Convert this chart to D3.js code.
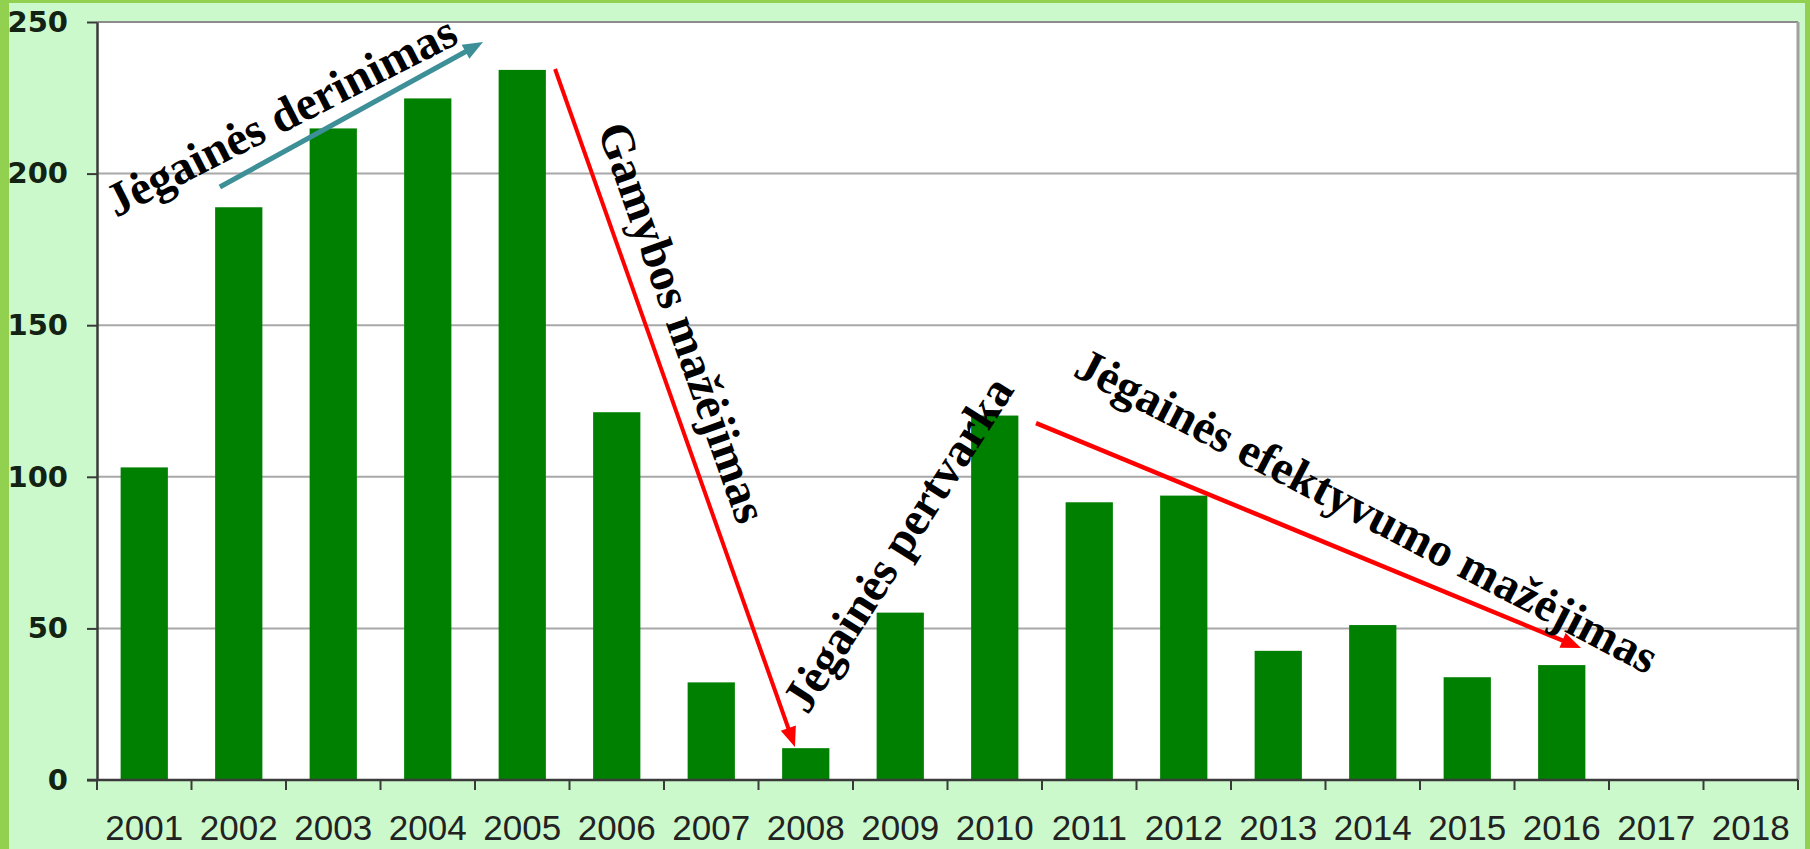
<!DOCTYPE html>
<html>
<head>
<meta charset="utf-8">
<script src="https://cdn.jsdelivr.net/npm/d3@7"></script>
<style>
  html, body { margin: 0; padding: 0; background: #ccf9cc; }
  svg { display: block; }
</style>
</head>
<body>
<svg id="chart" width="1810" height="849"></svg>
<script>
// Annual output by year
const years = ['2001','2002','2003','2004','2005','2006','2007','2008','2009',
               '2010','2011','2012','2013','2014','2015','2016','2017','2018'];
const values = [103.1, 188.9, 214.9, 224.8, 234.2, 121.3, 32.2, 10.5, 55.2,
                 120.2, 91.6, 93.8, 42.6, 51.1, 33.9, 37.9, null, null];
const yTicks = [0, 50, 100, 150, 200, 250];

// Trend annotations: text, anchor (category slot, value), rotation
const noteTexts  = ['Jėgainės derinimas', 'Gamybos mažėjimas', 'Jėgainės pertvarka', 'Jėgainės efektyvumo mažėjimas'];
const noteSlots  = [1.955, 6.18, 8.49, 13.43];
const noteValues = [218.5, 150.7, 77.5, 88.3];
const noteAngles = [-27, 70.5, -57.5, 27.5];

// Trend arrows: start / end as (category slot, value)
const arrowFromSlot  = [1.30, 4.847, 9.937];
const arrowFromValue = [195.6, 234.5, 117.7];
const arrowToSlot    = [4.085, 7.386, 15.704];
const arrowToValue   = [243.4, 10.9, 43.5];
const arrowColors    = ['#3d8f98', '#ff0000', '#ff0000'];
const arrowWidths    = [5, 4, 4.5];

const W = 1810, H = 849;
const plot = { left: 97, right: 1798, top: 22, bottom: 780 };

const svg = d3.select('#chart');

// Page background and frame strips
svg.append('rect').attr('x', 0).attr('y', 0).attr('width', W).attr('height', H).attr('fill', '#ccf9cc');
svg.append('rect').attr('x', 0).attr('y', 0).attr('width', 9).attr('height', H).attr('fill', '#92d050');
svg.append('rect').attr('x', 0).attr('y', 0).attr('width', W).attr('height', 3).attr('fill', '#92d050');
svg.append('rect').attr('x', 1805).attr('y', 0).attr('width', 5).attr('height', H).attr('fill', '#92d050');

const x = d3.scaleBand()
  .domain(years)
  .range([plot.left, plot.right])
  .paddingInner(0.5)
  .paddingOuter(0.25);

const y = d3.scaleLinear().domain([0, 250]).range([plot.bottom, plot.top]);

const slotX = s => plot.left + s * x.step();

// Plot area
svg.append('rect')
  .attr('x', plot.left).attr('y', plot.top)
  .attr('width', plot.right - plot.left).attr('height', plot.bottom - plot.top)
  .attr('fill', '#ffffff');

// Horizontal gridlines
svg.append('g')
  .selectAll('line')
  .data(yTicks.filter(d => d > 0))
  .join('line')
  .attr('x1', plot.left).attr('x2', plot.right)
  .attr('y1', d => y(d)).attr('y2', d => y(d))
  .attr('stroke', d => d === 250 ? '#8c8c8c' : '#a8a8a8')
  .attr('stroke-width', 2);

// Right border of plot area
svg.append('line')
  .attr('x1', plot.right).attr('x2', plot.right)
  .attr('y1', plot.top).attr('y2', plot.bottom)
  .attr('stroke', '#a0a0a0').attr('stroke-width', 3);

// Bars
svg.append('g')
  .selectAll('rect')
  .data(years.map((yr, i) => ({ yr, v: values[i] })).filter(d => d.v != null))
  .join('rect')
  .attr('x', d => x(d.yr))
  .attr('width', x.bandwidth())
  .attr('y', d => y(d.v))
  .attr('height', d => y(0) - y(d.v))
  .attr('fill', '#008000');

// Y axis
const yAxis = svg.append('g')
  .attr('transform', `translate(${plot.left},0)`)
  .call(d3.axisLeft(y).tickValues(yTicks).tickSize(10).tickPadding(19).tickSizeOuter(0));
yAxis.select('.domain').attr('stroke', '#3a3a3a').attr('stroke-width', 2.5);
yAxis.selectAll('.tick line').attr('stroke', '#3a3a3a').attr('stroke-width', 2);
yAxis.selectAll('.tick text')
  .attr('font-family', '"DejaVu Sans", sans-serif')
  .attr('font-weight', 'bold')
  .attr('font-size', 29)
  .attr('fill', '#132313');

// X axis: labels centred on categories, ticks on category boundaries
const xAxis = svg.append('g')
  .attr('transform', `translate(0,${plot.bottom})`)
  .call(d3.axisBottom(x).tickSize(0).tickPadding(35).tickSizeOuter(0));
xAxis.select('.domain').remove();
xAxis.selectAll('.tick text')
  .attr('font-family', '"Liberation Sans", Arial, sans-serif')
  .attr('font-size', 35)
  .attr('fill', '#222222');

svg.append('g')
  .selectAll('line')
  .data(d3.range(years.length + 1))
  .join('line')
  .attr('x1', i => slotX(i)).attr('x2', i => slotX(i))
  .attr('y1', plot.bottom).attr('y2', plot.bottom + 10)
  .attr('stroke', '#3a3a3a').attr('stroke-width', 2);

svg.append('line')
  .attr('x1', plot.left - 10).attr('x2', plot.right)
  .attr('y1', plot.bottom).attr('y2', plot.bottom)
  .attr('stroke', '#3a3a3a').attr('stroke-width', 2.5);

// Trend arrows
const arrows = svg.append('g');
arrowFromSlot.forEach((s, i) => {
  const x1 = slotX(s), y1 = y(arrowFromValue[i]);
  const x2 = slotX(arrowToSlot[i]), y2 = y(arrowToValue[i]);
  const len = Math.hypot(x2 - x1, y2 - y1);
  const ux = (x2 - x1) / len, uy = (y2 - y1) / len;
  const headLen = 20, headHalf = 8;
  const bx = x2 - ux * headLen, by = y2 - uy * headLen;
  arrows.append('line')
    .attr('x1', x1).attr('y1', y1)
    .attr('x2', bx + ux * 2).attr('y2', by + uy * 2)
    .attr('stroke', arrowColors[i]).attr('stroke-width', arrowWidths[i]);
  arrows.append('polygon')
    .attr('points', [
      [x2, y2],
      [bx - uy * headHalf, by + ux * headHalf],
      [bx + uy * headHalf, by - ux * headHalf]
    ].map(p => p.join(',')).join(' '))
    .attr('fill', arrowColors[i]);
});

// Annotation labels
svg.append('g')
  .selectAll('text')
  .data(noteTexts)
  .join('text')
  .attr('transform', (d, i) => `translate(${slotX(noteSlots[i])},${y(noteValues[i])}) rotate(${noteAngles[i]})`)
  .attr('text-anchor', 'middle')
  .attr('dy', '0.3em')
  .attr('font-family', '"Liberation Serif", "Times New Roman", serif')
  .attr('font-weight', 'bold')
  .attr('font-size', 47.5)
  .attr('fill', '#000000')
  .text(d => d);
</script>
</body>
</html>
